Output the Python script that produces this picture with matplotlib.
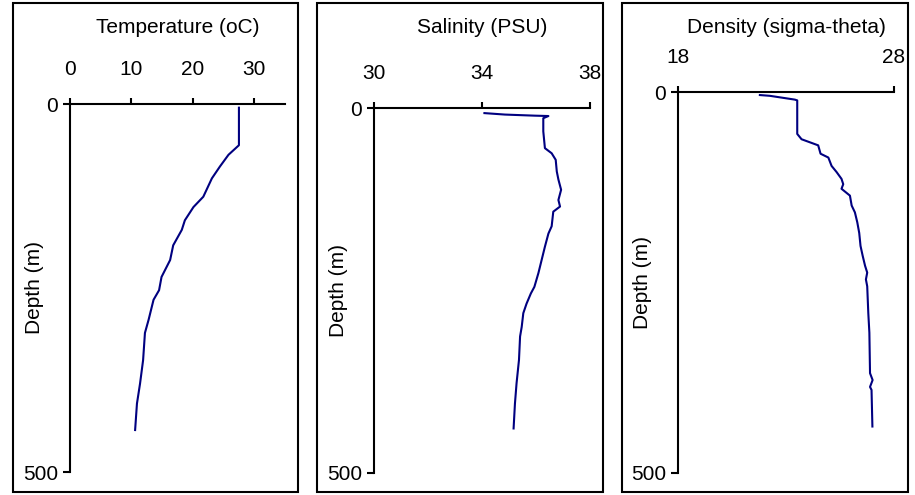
import matplotlib
matplotlib.use('Agg')
import matplotlib.pyplot as plt
from matplotlib.patches import Rectangle

plt.rcParams['font.family'] = ['Liberation Sans', 'DejaVu Sans']
plt.rcParams['font.size'] = 15

# profile data (depth in m)
temp_depth = [5, 56, 69, 85, 101, 126, 140, 158, 171, 192, 212, 235, 253, 266,
              293, 311, 348, 380, 407, 443]
temp = [27.5, 27.5, 25.8, 24.4, 23.1, 21.7, 20.1, 18.7, 18.2, 16.8, 16.3, 14.9,
        14.5, 13.6, 12.8, 12.2, 11.9, 11.4, 10.9, 10.6]

sal_depth = [7, 9, 10.5, 11, 14, 32, 55, 62, 71, 87, 98, 112, 126, 135, 142,
             162, 172, 190, 208, 226, 245, 254, 268, 281, 300, 313, 345, 377,
             405, 439]
sal = [34.09, 34.85, 35.96, 36.46, 36.27, 36.27, 36.33, 36.58, 36.73, 36.77,
       36.83, 36.93, 36.83, 36.89, 36.64, 36.58, 36.46, 36.33, 36.21, 36.09,
       35.94, 35.81, 35.65, 35.53, 35.47, 35.41, 35.37, 35.28, 35.22, 35.17]

dens_depth = [4, 5, 10, 11, 55, 62, 70, 81, 86, 97, 105, 114, 121, 127, 136,
              149, 158, 171, 185, 202, 215, 228, 237, 246, 255, 290, 316, 369,
              378, 387, 391, 439]
dens = [21.79, 22.25, 23.41, 23.52, 23.52, 23.72, 24.49, 24.60, 24.96, 25.11,
        25.34, 25.57, 25.65, 25.57, 25.96, 26.04, 26.19, 26.30, 26.39, 26.45,
        26.55, 26.66, 26.76, 26.70, 26.76, 26.81, 26.86, 26.89, 27.01, 26.89,
        26.96, 27.0]

titles = ['Temperature (oC)', 'Salinity (PSU)', 'Density (sigma-theta)']
xlims = [(0, 35), (30, 38), (18, 28)]
xticks = [[0, 10, 20, 30], [30, 34, 38], [18, 28]]

W, H = 915, 495
fig = plt.figure(figsize=(W / 100, H / 100), dpi=100)

def fx(px):
    return px / W

def fy(py):
    return 1 - py / H

# frames (pixel left, right) and axes boxes (left, right, top, bottom)
frames = [(13, 298), (317, 603), (622, 908)]
boxes = [(70, 285, 104, 472), (374, 590, 108, 473), (678, 894, 92, 473)]

navy = '#000080'
data = [(temp, temp_depth), (sal, sal_depth), (dens, dens_depth)]

for i in range(3):
    l, r = frames[i]
    fig.add_artist(Rectangle((fx(l), fy(492)), fx(r) - fx(l), fy(3) - fy(492),
                             transform=fig.transFigure, fill=False,
                             edgecolor='black', lw=1.5))
    bl, br, bt, bb = boxes[i]
    ax = fig.add_axes([fx(bl), fy(bb), fx(br) - fx(bl), fy(bt) - fy(bb)])
    x, d = data[i]
    ax.plot(x, d, color=navy, lw=1.5)
    ax.set_xlim(*xlims[i])
    ax.set_ylim(500, 0)
    ax.set_xticks(xticks[i])
    ax.set_yticks([0, 500])
    ax.xaxis.tick_top()
    ax.spines['right'].set_visible(False)
    ax.spines['bottom'].set_visible(False)
    ax.spines['top'].set_linewidth(1.5)
    ax.spines['left'].set_linewidth(1.5)
    ax.tick_params(axis='x', length=4.5, width=1.5, pad=13.5)
    ax.tick_params(axis='y', length=5, width=1.5, pad=3.5)
    ax.set_xlabel(titles[i])
    ax.xaxis.set_label_position('top')
    ax.xaxis.set_label_coords((fx(bl) + fx(br)) / 2, fy(33),
                              transform=fig.transFigure)
    ax.set_ylabel('Depth (m)', va='center')
    ax.yaxis.set_label_coords(fx(bl - 35), (fy(bt) + fy(bb)) / 2,
                              transform=fig.transFigure)
    ax.patch.set_visible(False)

fig.savefig('out.png', dpi=100)
